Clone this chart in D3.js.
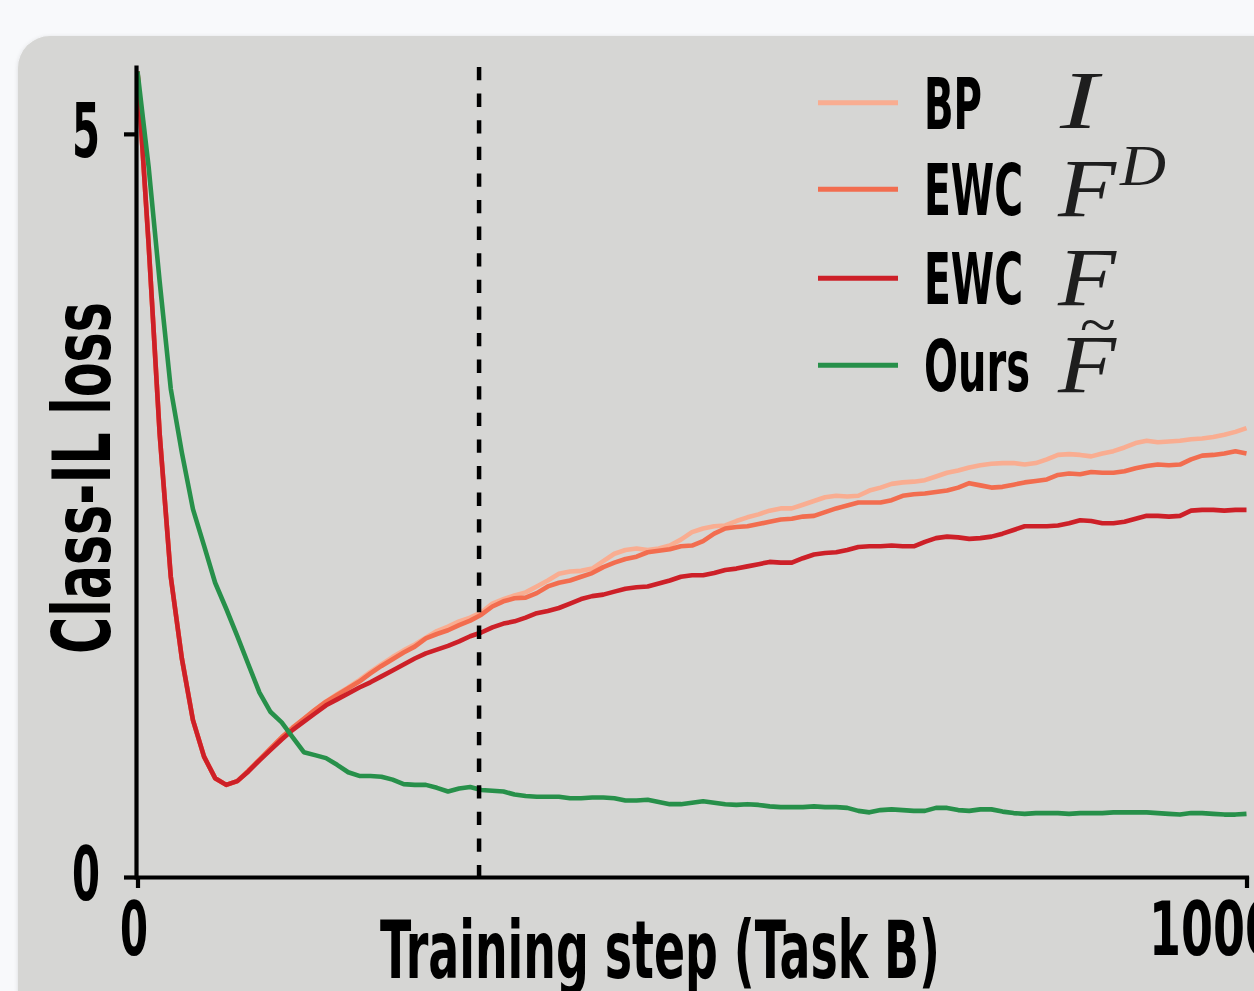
<!DOCTYPE html>
<html>
<head>
<meta charset="utf-8">
<script src="https://cdn.jsdelivr.net/npm/d3@7"></script>
<style>
  html, body { margin: 0; padding: 0; background: #f8f9fb; overflow: hidden; }
  .lbl { font-family: "Liberation Sans Narrow", "DejaVu Sans Condensed", "Liberation Sans", sans-serif; font-weight: bold; font-stretch: condensed; fill: #000; }
  .math { font-family: "Liberation Serif", "DejaVu Serif", serif; font-style: italic; fill: #1e1e1e; }
</style>
</head>
<body>
<div class="container-chart"></div>
<script>

// steps logged every 10 training steps of task B
var steps = d3.range(0, 1001, 10);

var bpI = [
  5.42, 4.26, 2.98, 2.02, 1.47, 1.055, 0.81, 0.665, 0.62, 0.645,
  0.715, 0.79, 0.865, 0.94, 1.005, 1.065, 1.125, 1.18, 1.23, 1.275,
  1.325, 1.38, 1.43, 1.48, 1.525, 1.565, 1.61, 1.655, 1.685, 1.72,
  1.745, 1.78, 1.84, 1.87, 1.895, 1.915, 1.955, 1.995, 2.04, 2.055,
  2.06, 2.075, 2.125, 2.175, 2.20, 2.21, 2.20, 2.21, 2.23, 2.27,
  2.32, 2.345, 2.36, 2.365, 2.395, 2.42, 2.44, 2.465, 2.48, 2.48,
  2.505, 2.53, 2.555, 2.565, 2.56, 2.565, 2.60, 2.62, 2.645, 2.655,
  2.66, 2.67, 2.695, 2.72, 2.735, 2.755, 2.77, 2.78, 2.785, 2.785,
  2.775, 2.785, 2.81, 2.84, 2.845, 2.84, 2.83, 2.85, 2.865, 2.89,
  2.92, 2.935, 2.925, 2.93, 2.935, 2.945, 2.95, 2.96, 2.975, 2.995,
  3.02
];

var ewcFD = [
  5.42, 4.26, 2.98, 2.02, 1.47, 1.055, 0.81, 0.665, 0.62, 0.645,
  0.715, 0.79, 0.865, 0.94, 1.005, 1.065, 1.125, 1.18, 1.225, 1.27,
  1.315, 1.37, 1.42, 1.465, 1.51, 1.55, 1.605, 1.635, 1.66, 1.695,
  1.725, 1.765, 1.82, 1.855, 1.875, 1.88, 1.91, 1.955, 1.98, 1.995,
  2.02, 2.045, 2.085, 2.115, 2.14, 2.155, 2.185, 2.195, 2.205, 2.225,
  2.23, 2.26, 2.31, 2.345, 2.355, 2.36, 2.375, 2.39, 2.405, 2.41,
  2.425, 2.43, 2.455, 2.48, 2.50, 2.52, 2.52, 2.52, 2.535, 2.565,
  2.575, 2.58, 2.59, 2.60, 2.62, 2.65, 2.635, 2.62, 2.625, 2.64,
  2.655, 2.665, 2.675, 2.705, 2.715, 2.71, 2.725, 2.72, 2.72, 2.73,
  2.75, 2.765, 2.775, 2.77, 2.775, 2.81, 2.835, 2.84, 2.85, 2.865,
  2.85
];

var ewcF = [
  5.42, 4.26, 2.98, 2.02, 1.47, 1.055, 0.81, 0.665, 0.62, 0.645,
  0.71, 0.785, 0.855, 0.925, 0.99, 1.045, 1.10, 1.155, 1.195, 1.235,
  1.275, 1.31, 1.35, 1.39, 1.43, 1.47, 1.505, 1.53, 1.555, 1.585,
  1.62, 1.645, 1.68, 1.705, 1.72, 1.745, 1.775, 1.79, 1.81, 1.84,
  1.87, 1.89, 1.90, 1.92, 1.94, 1.95, 1.955, 1.975, 1.995, 2.02,
  2.03, 2.03, 2.045, 2.065, 2.075, 2.09, 2.105, 2.12, 2.115, 2.115,
  2.145, 2.17, 2.18, 2.185, 2.20, 2.22, 2.225, 2.225, 2.23, 2.225,
  2.225, 2.255, 2.28, 2.29, 2.285, 2.275, 2.28, 2.29, 2.31, 2.335,
  2.36, 2.36, 2.36, 2.365, 2.38, 2.40, 2.395, 2.38, 2.38, 2.39,
  2.41, 2.43, 2.43, 2.425, 2.43, 2.465, 2.47, 2.47, 2.465, 2.47,
  2.47
];

var ours = [
  5.42, 4.78, 4.005, 3.285, 2.855, 2.475, 2.23, 1.98, 1.805, 1.62,
  1.43, 1.24, 1.11, 1.04, 0.94, 0.84, 0.82, 0.80, 0.755, 0.705,
  0.68, 0.68, 0.675, 0.655, 0.625, 0.62, 0.62, 0.60, 0.575, 0.595,
  0.605, 0.585, 0.58, 0.575, 0.555, 0.545, 0.54, 0.54, 0.54, 0.53,
  0.53, 0.535, 0.535, 0.53, 0.515, 0.515, 0.52, 0.505, 0.49, 0.49,
  0.50, 0.51, 0.50, 0.49, 0.485, 0.49, 0.485, 0.475, 0.47, 0.47,
  0.47, 0.475, 0.47, 0.47, 0.465, 0.445, 0.435, 0.45, 0.455, 0.45,
  0.445, 0.445, 0.465, 0.465, 0.45, 0.445, 0.455, 0.455, 0.44, 0.43,
  0.425, 0.43, 0.43, 0.43, 0.425, 0.43, 0.43, 0.43, 0.435, 0.435,
  0.435, 0.435, 0.43, 0.425, 0.42, 0.43, 0.43, 0.425, 0.42, 0.42,
  0.425
];

var seriesNames = ["BP", "EWC", "EWC", "Ours"];
var seriesMath = ["I", "F", "F", "F"];
var seriesColors = ["#f9ad91", "#f26d4f", "#cd2028", "#27904a"];
var yTicks = [0, 5];
var xTicks = [0, 1000];
var taskSwitchStep = 308;

var width = 1254;
var height = 991;

var svg = d3.select(".container-chart")
    .append("svg")
    .attr("width", width)
    .attr("height", height);

var defs = svg.append("defs");
var shadow = defs.append("filter").attr("id", "soft").attr("x", "-5%").attr("y", "-5%").attr("width", "110%").attr("height", "110%");
shadow.append("feDropShadow").attr("dx", 0).attr("dy", 1).attr("stdDeviation", 2).attr("flood-color", "#000").attr("flood-opacity", 0.12);

// gray rounded panel behind the plot
svg.append("rect")
    .attr("x", 18).attr("y", 36)
    .attr("width", 1300).attr("height", 1000)
    .attr("rx", 32).attr("ry", 32)
    .attr("fill", "#d6d6d4")
    .attr("filter", "url(#soft)");

var x = d3.scaleLinear().domain([0, 1000]).range([137.5, 1246.5]);
var y = d3.scaleLinear().domain([0, 5.45]).range([877, 67]);

var series = [bpI, ewcFD, ewcF, ours].map(function (vals, i) {
    return { name: seriesNames[i], color: seriesColors[i], values: vals };
});

var line = d3.line()
    .x(function (d, i) { return x(steps[i]); })
    .y(function (d) { return y(d); });

// draw order: BP, EWC F^D, EWC F, Ours on top
svg.selectAll(".series")
    .data(series)
    .enter()
    .append("path")
    .attr("class", "series")
    .attr("d", function (d) { return line(d.values); })
    .attr("fill", "none")
    .attr("stroke", function (d) { return d.color; })
    .attr("stroke-width", 4.6)
    .attr("stroke-linejoin", "round");

// vertical dashed line where task B training switches
svg.append("line")
    .attr("x1", x(taskSwitchStep)).attr("x2", x(taskSwitchStep))
    .attr("y1", y.range()[1]).attr("y2", y(0))
    .attr("stroke", "#000")
    .attr("stroke-width", 4.5)
    .attr("stroke-dasharray", "13.3,13.3");

// axes
var yAxis = d3.axisLeft(y).tickValues(yTicks).tickSize(12).tickSizeOuter(0).tickFormat(d3.format("d"));
var xAxis = d3.axisBottom(x).tickValues(xTicks).tickSize(11).tickSizeOuter(0).tickFormat(d3.format("d"));

var gx = svg.append("g").attr("transform", "translate(0," + y(0) + ")").call(xAxis);
var gy = svg.append("g").attr("transform", "translate(136,0)").call(yAxis);

[gx, gy].forEach(function (g) {
    g.select(".domain").attr("stroke", "#000").attr("stroke-width", 4.2).attr("stroke-linecap", "square");
    g.selectAll(".tick line").attr("stroke", "#000").attr("stroke-width", 4.2);
    g.selectAll(".tick text")
        .attr("class", "lbl")
        .attr("font-size", 74)
        .attr("fill", "#000");
});

gy.selectAll(".tick text")
    .attr("x", -36)
    .attr("dy", "0.3em")
    .attr("textLength", 28)
    .attr("lengthAdjust", "spacingAndGlyphs");

gx.selectAll(".tick text")
    .attr("y", 78)
    .attr("dy", 0)
    .attr("dx", function (d) { return d === 1000 ? -34 : -4; })
    .attr("textLength", function (d) { return d === 1000 ? 128 : 28; })
    .attr("lengthAdjust", "spacingAndGlyphs");

// axis titles
svg.append("text")
    .attr("class", "lbl")
    .attr("x", 660).attr("y", 978)
    .attr("text-anchor", "middle")
    .attr("font-size", 80)
    .attr("textLength", 560)
    .attr("lengthAdjust", "spacingAndGlyphs")
    .text("Training step (Task B)");

svg.append("text")
    .attr("class", "lbl")
    .attr("transform", "translate(110,478) rotate(-90)")
    .attr("text-anchor", "middle")
    .attr("font-size", 80)
    .attr("textLength", 352)
    .attr("lengthAdjust", "spacingAndGlyphs")
    .text("Class-IL loss");

// legend
var legendY = [102.7, 189.3, 278.3, 365.3];
var legendWidths = [58, 99, 99, 106];

var legend = svg.selectAll(".legend")
    .data(series)
    .enter()
    .append("g")
    .attr("class", "legend")
    .attr("transform", function (d, i) { return "translate(0," + legendY[i] + ")"; });

legend.append("line")
    .attr("x1", 818).attr("x2", 898)
    .attr("y1", 0).attr("y2", 0)
    .attr("stroke", function (d) { return d.color; })
    .attr("stroke-width", 5);

legend.append("text")
    .attr("class", "lbl")
    .attr("x", 924).attr("y", 26)
    .attr("font-size", 71)
    .attr("textLength", function (d, i) { return legendWidths[i]; })
    .attr("lengthAdjust", "spacingAndGlyphs")
    .text(function (d) { return d.name; });

legend.append("text")
    .attr("class", "math")
    .attr("x", function (d, i) { return i === 0 ? 1060 : 1058; })
    .attr("y", function (d, i) { return i === 0 ? 25 : 27; })
    .attr("font-size", 82)
    .attr("textLength", function (d, i) { return i === 0 ? 38 : 58; })
    .attr("lengthAdjust", "spacingAndGlyphs")
    .text(function (d, i) { return seriesMath[i]; });

// superscript D on the EWC F^D entry
legend.filter(function (d, i) { return i === 1; })
    .append("text")
    .attr("class", "math")
    .attr("x", 1120).attr("y", -4)
    .attr("font-size", 58)
    .attr("textLength", 46)
    .attr("lengthAdjust", "spacingAndGlyphs")
    .text("D");

// tilde over the Ours F
legend.filter(function (d, i) { return i === 3; })
    .append("text")
    .attr("class", "math")
    .attr("x", 1079).attr("y", -20)
    .attr("font-size", 62)
    .attr("textLength", 36)
    .attr("lengthAdjust", "spacingAndGlyphs")
    .text("~");

</script>
</body>
</html>
